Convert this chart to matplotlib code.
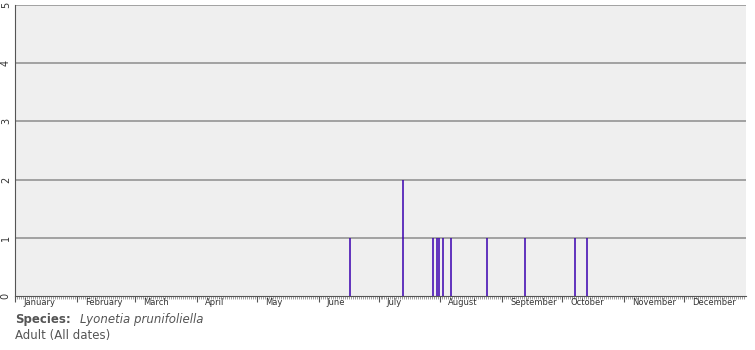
import matplotlib
matplotlib.use("Agg")
import matplotlib.pyplot as plt
import numpy as np

# sighting dates (month-day) and counts
dates = ["06-16", "07-13", "07-28", "07-30", "07-31", "08-02", "08-06",
         "08-24", "09-12", "10-07", "10-13"]
counts = [1, 2, 1, 1, 1, 1, 1, 1, 1, 1, 1]
months = ["January", "February", "March", "April", "May", "June", "July",
          "August", "September", "October", "November", "December"]
month_days = [31, 29, 31, 30, 31, 30, 31, 31, 30, 31, 30, 31]
yticks = [0, 1, 2, 3, 4, 5]

month_start = np.concatenate([[0], np.cumsum(month_days)[:-1]])


def day_of_year(md):
    m, d = (int(v) for v in md.split("-"))
    return month_start[m - 1] + d


doy = np.array([day_of_year(s) for s in dates])

fig = plt.figure(figsize=(7.55, 3.5), dpi=100)
ax = fig.add_axes([15 / 755, 1 - 296 / 350, 731 / 755, 291 / 350])
ax.set_facecolor("#efefef")

ax.vlines(doy - 0.5, 0, counts, color="#3a00b0", lw=1.1, zorder=3)

ax.set_xlim(0, 366)
ax.set_ylim(0, 5)
for y in yticks[1:]:
    ax.axhline(y, color="#8c8c8c", lw=1.1, zorder=1)

ax.set_yticks(yticks)
ax.set_yticklabels([str(v) for v in yticks], rotation=90, va="center",
                   fontsize=7, color="#333333")
ax.tick_params(axis="y", length=0, pad=3)

ax.set_xticks(month_start)
ax.set_xticklabels([])
ax.set_xticks(np.arange(0, 366), minor=True)
ax.tick_params(axis="x", which="major", length=4, width=0.8, color="#555555")
ax.tick_params(axis="x", which="minor", length=2, width=0.5, color="#777777")
for start, name in zip(month_start, months):
    ax.annotate(name, (start + 4, 0), xycoords=("data", "axes fraction"),
                xytext=(0, -1.5), textcoords="offset points",
                ha="left", va="top", fontsize=6, color="#333333")

for side in ["top", "right"]:
    ax.spines[side].set_visible(False)
ax.spines["left"].set_color("#555555")
ax.spines["bottom"].set_color("#555555")

fig.text(15 / 755, 1 - 320 / 350, "Species:", fontsize=8.5, fontweight="bold",
         color="#555555", va="center")
fig.text(80 / 755, 1 - 320 / 350, "Lyonetia prunifoliella", fontsize=8.5,
         style="italic", color="#555555", va="center")
fig.text(15 / 755, 1 - 336 / 350, "Adult (All dates)", fontsize=8.5,
         color="#555555", va="center")

fig.savefig("out.png", dpi=100)
